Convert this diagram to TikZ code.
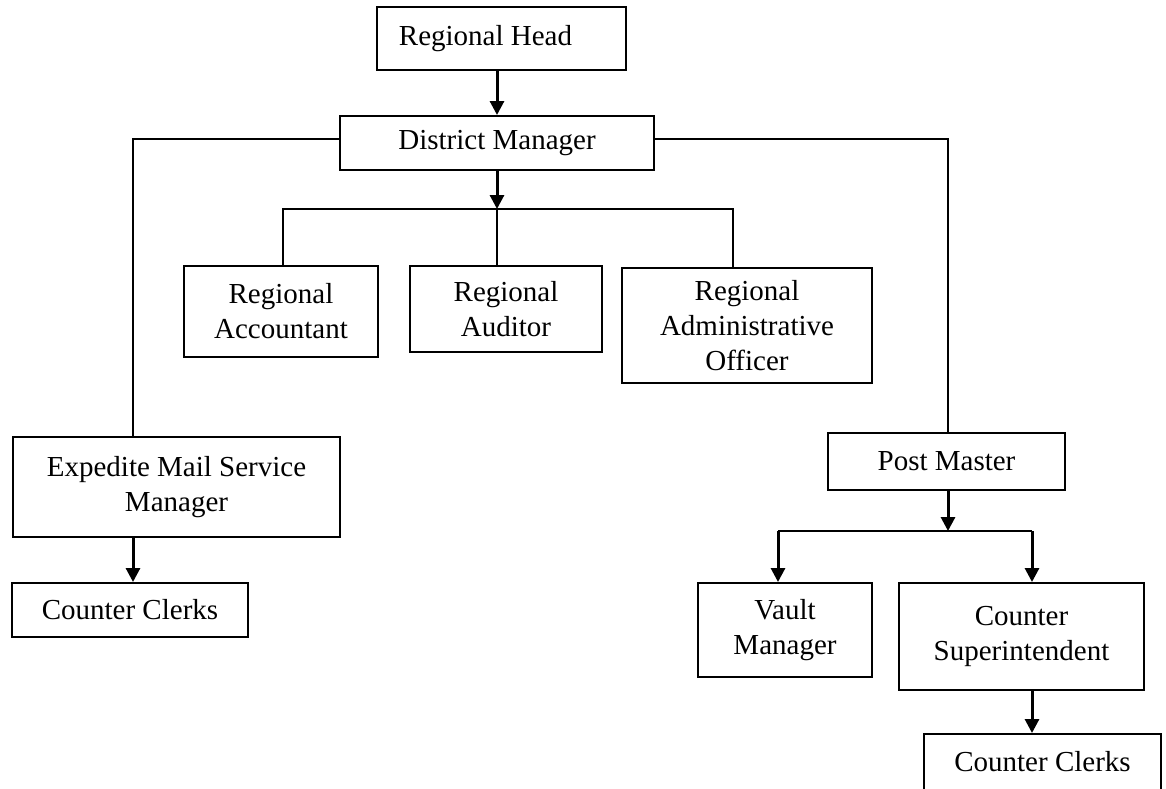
\documentclass[tikz,border=0pt]{standalone}
\usepackage{fontspec}
\setmainfont{Liberation Serif}
\usetikzlibrary{arrows.meta,calc}
\begin{document}
\begin{tikzpicture}[x=1pt,y=-1pt,
  box/.style={draw,line width=2pt,rectangle,inner sep=0pt,align=center,
    font=\fontsize{29}{35}\selectfont},
  link/.style={line width=2pt},
  arr/.style={line width=3pt,-{Triangle[length=14pt,width=14pt]}}]
\clip (0,0) rectangle (1166,788);
\fill[white] (0,0) rectangle (1166,788);
% boxes
\node[box,minimum width=249pt,minimum height=63pt] (rh) at (501.5,38.5) {\hspace*{-32pt}Regional Head};
\node[box,minimum width=314pt,minimum height=54pt] (dm) at (497,143) {District Manager};
\node[box,minimum width=194pt,minimum height=91pt] (ra) at (281,311.5) {Regional\\Accountant};
\node[box,minimum width=192pt,minimum height=86pt] (rau) at (506,309) {Regional\\Auditor};
\node[box,minimum width=250pt,minimum height=115pt] (rao) at (747,325.5) {Regional\\Administrative\\Officer};
\node[box,minimum width=327pt,minimum height=100pt] (ems) at (176.5,487) {Expedite Mail Service\\Manager};
\node[box,minimum width=236pt,minimum height=54pt] (cc1) at (130,610) {Counter Clerks};
\node[box,minimum width=237pt,minimum height=57pt] (pm) at (946.5,461.5) {Post Master};
\node[box,minimum width=174pt,minimum height=94pt] (vm) at (785,630) {Vault\\Manager};
\node[box,minimum width=245pt,minimum height=107pt] (cs) at (1021.5,636.5) {Counter\\Superintendent};
\node[box,minimum width=237pt,minimum height=56pt] (cc2) at (1042.5,762) {Counter Clerks};
% junction points
\coordinate (j1) at (497,209);
\coordinate (ltop) at (133,139);
\coordinate (rtop) at (948,139);
\coordinate (j2) at (948,531);
\coordinate (vx) at (778,531);
\coordinate (cx) at (1032,531);
\coordinate (ax) at (283,209);
\coordinate (ox) at (733,209);
% connectors
\draw[arr] (rh.south -| dm.north) -- (dm.north);
\draw[arr] (dm.south) -- (j1);
\draw[link] (ax |- ra.north) -- (ax) -- (ox) -- (ox |- rao.north);
\draw[link] (j1) -- (j1 |- rau.north);
\draw[link] (dm.west |- ltop) -- (ltop) -- (ltop |- ems.north);
\draw[arr] (ltop |- ems.south) -- (ltop |- cc1.north);
\draw[link] (dm.east |- rtop) -- (rtop) -- (rtop |- pm.north);
\draw[arr] (pm.south -| j2) -- (j2);
\draw[link] (vx) -- (cx);
\draw[arr] (vx) -- (vx |- vm.north);
\draw[arr] (cx) -- (cx |- cs.north);
\draw[arr] (cx |- cs.south) -- (cx |- cc2.north);
\end{tikzpicture}
\end{document}
